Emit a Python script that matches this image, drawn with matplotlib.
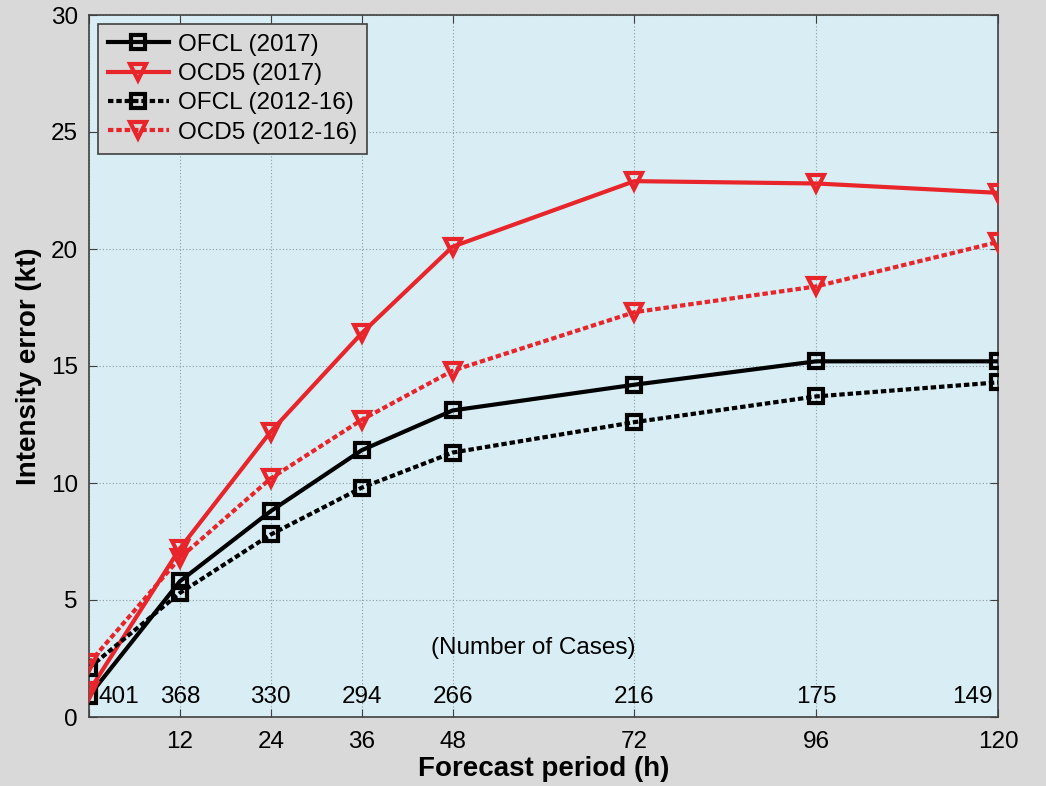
import matplotlib
matplotlib.use("Agg")
import matplotlib.pyplot as plt

hours = [0, 12, 24, 36, 48, 72, 96, 120]
cases = ["401", "368", "330", "294", "266", "216", "175", "149"]
ofcl_2017 = [0.9, 5.8, 8.8, 11.4, 13.1, 14.2, 15.2, 15.2]
ocd5_2017 = [1.1, 7.2, 12.2, 16.4, 20.1, 22.9, 22.8, 22.4]
ofcl_1216 = [2.1, 5.3, 7.8, 9.8, 11.3, 12.6, 13.7, 14.3]
ocd5_1216 = [2.3, 6.8, 10.2, 12.7, 14.8, 17.3, 18.4, 20.3]
xtick_labels = ["", "12", "24", "36", "48", "72", "96", "120"]
yticks = [0, 5, 10, 15, 20, 25, 30]

plt.rcParams['font.family'] = ['Liberation Sans', 'DejaVu Sans']

bg = '#d9d9d9'
axbg = '#d8eef4'
red = '#e8252a'

fig = plt.figure(figsize=(10.46, 7.86), dpi=100, facecolor=bg)
ax = fig.add_axes([89/1046, 1-717/786, (998-89)/1046, (717-15)/786])
ax.set_facecolor(axbg)

lw = 3.0
ms = 9.5
mew = 3.0
dash = (0, (1.3, 0.7))
ax.plot(hours, ofcl_2017, color='black', lw=lw, ls='-', marker='s', ms=ms,
        mfc='none', mew=mew, label='OFCL (2017)', zorder=3)
ax.plot(hours, ocd5_2017, color=red, lw=lw, ls='-', marker='v', ms=ms+2,
        mfc='none', mew=mew, label='OCD5 (2017)', zorder=3)
ax.plot(hours, ofcl_1216, color='black', lw=lw, ls=dash, marker='s', ms=ms,
        mfc='none', mew=mew, label='OFCL (2012-16)', zorder=3)
ax.plot(hours, ocd5_1216, color=red, lw=lw, ls=dash, marker='v', ms=ms+2,
        mfc='none', mew=mew, label='OCD5 (2012-16)', zorder=3)

ax.set_xlim(0, 120)
ax.set_ylim(0, 30)
ax.set_xticks(hours)
ax.set_xticklabels(xtick_labels)
ax.set_yticks(yticks)
ax.tick_params(axis='both', labelsize=17.5, direction='in', length=6, color='#404040',
               top=True, right=True)
ax.tick_params(axis='x', pad=10)
ax.tick_params(axis='y', pad=8)
ax.grid(True, color='#8a9aa0', ls=(0, (1, 2)), lw=0.8)
for s in ax.spines.values():
    s.set_color('#404040')
    s.set_linewidth(1.2)

for h, c in zip(hours, cases):
    if h == 0:
        ax.text(1.3, 0.85, c, ha='left', va='center', fontsize=17.5, zorder=4)
    elif h == 120:
        ax.text(119.3, 0.85, c, ha='right', va='center', fontsize=17.5, zorder=4)
    else:
        ax.text(h, 0.85, c, ha='center', va='center', fontsize=17.5, zorder=4)
ax.text(58.6, 2.95, '(Number of Cases)', ha='center', va='center', fontsize=17.5)

ax.set_xlabel('Forecast period (h)', fontsize=20, fontweight='bold', labelpad=2)
ax.set_ylabel('Intensity error (kt)', fontsize=20, fontweight='bold', labelpad=6)

leg = ax.legend(loc='upper left', bbox_to_anchor=(0.01, 0.987), fontsize=17.5,
                frameon=True, fancybox=False, facecolor=bg, edgecolor='#404040',
                framealpha=1, handlelength=2.5, handletextpad=0.4, borderpad=0.4,
                labelspacing=0.3, borderaxespad=0)
leg.get_frame().set_linewidth(1.2)

fig.savefig('out.png', dpi=100, facecolor=bg)
